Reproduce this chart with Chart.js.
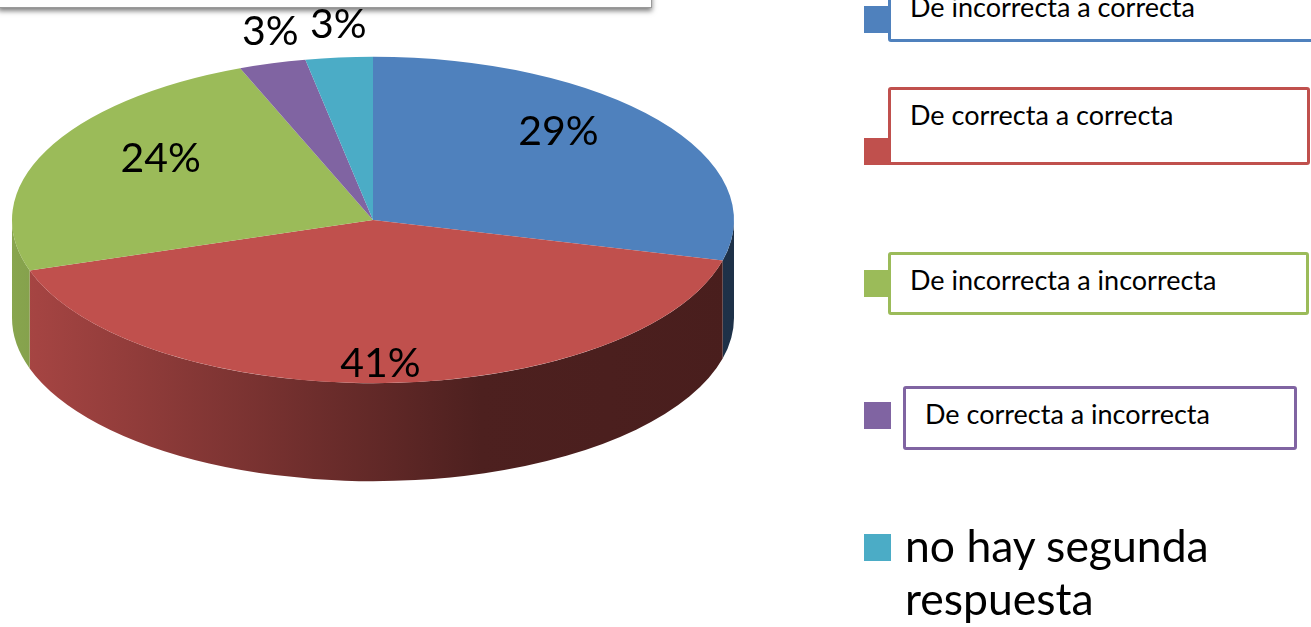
<!DOCTYPE html>
<html lang="es">
<head>
<meta charset="UTF-8">
<title>Segunda respuesta</title>
<style>
  html, body { margin: 0; padding: 0; background: #fff; overflow: hidden; }
  body { width: 1311px; height: 627px; position: relative; font-family: Lato, "Noto Sans", sans-serif; }
  #chartBox { position: absolute; left: 0; top: 0; width: 1311px; height: 627px; }
  .titleBox { position: absolute; left: -2px; top: -50px; width: 652px; height: 56px; background: #fff; border: 1px solid #9a9a9a; box-shadow: 0 3px 5px rgba(0,0,0,0.5); }
  .sq { position: absolute; left: 864px; width: 27px; height: 27px; }
  .lbox { position: absolute; box-sizing: border-box; border: 3px solid; border-radius: 3px; background: #fff; }
  .ltext { position: absolute; color: #000; line-height: 1; white-space: nowrap; }
  .ltext.big { white-space: normal; width: 340px; line-height: 53px; }
</style>
</head>
<body>
<div id="chartBox"><canvas id="pie" width="1311" height="627"></canvas></div>
<div class="titleBox"></div>
<div id="legend"></div>
<script src="https://cdn.jsdelivr.net/npm/chart.js"></script>
<script>
const categories = ['De incorrecta a correcta', 'De correcta a correcta', 'De incorrecta a incorrecta', 'De correcta a incorrecta', 'no hay segunda respuesta'];
const percents = [29, 41, 24, 3, 3];
const sliceColors = ['#4f81bd', '#c0504d', '#9bbb59', '#8064a2', '#4bacc6'];

// the text boxes were put over the legend by hand, so each sits on its own spot
const legendSpots = [
  { sq: 6,   box: [888, -40, 432, 82], text: [910, -7, 27] },
  { sq: 138, box: [888, 87, 422, 78],  text: [910, 101, 27] },
  { sq: 270, box: [888, 252, 421, 63], text: [910, 266, 27] },
  { sq: 402, box: [903, 386, 394, 64], text: [925, 400, 27] },
  { sq: 534, box: null,                text: [905, 518, 44.5] }
];

const tilt = 0.452;  // squash of the top face
const depth = 98;    // thickness of the pie in px

function shade(hex, f) {
  const n = parseInt(hex.slice(1), 16);
  const r = Math.round(((n >> 16) & 255) * f);
  const g = Math.round(((n >> 8) & 255) * f);
  const b = Math.round((n & 255) * f);
  return `rgb(${r},${g},${b})`;
}

const pie3d = {
  id: 'pie3d',
  beforeDatasetsDraw(chart) {
    const ctx = chart.ctx;
    const arcs = chart.getDatasetMeta(0).data;
    const { x, y, outerRadius: r } = arcs[0];
    ctx.save();
    ctx.translate(x, y);
    ctx.scale(1, tilt);
    ctx.translate(-x, -y);
    const d = depth / tilt;
    arcs.forEach((arc, i) => {
      const a0 = arc.startAngle, a1 = arc.endAngle;
      const grad = ctx.createLinearGradient(x - r, 0, x + r, 0);
      grad.addColorStop(0, shade(sliceColors[i], 0.88));
      grad.addColorStop(0.65, shade(sliceColors[i], 0.4));
      grad.addColorStop(1, shade(sliceColors[i], 0.38));
      ctx.fillStyle = grad;
      // only the front half of the rim shows
      [-2 * Math.PI, 0, 2 * Math.PI].forEach(k => {
        const lo = Math.max(a0, k), hi = Math.min(a1, k + Math.PI);
        if (hi <= lo) return;
        ctx.beginPath();
        ctx.arc(x, y, r, lo, hi);
        ctx.arc(x, y + d, r, hi, lo, true);
        ctx.closePath();
        ctx.fill();
      });
    });
  },
  afterDatasetsDraw(chart) {
    const ctx = chart.ctx;
    ctx.restore();
    const arcs = chart.getDatasetMeta(0).data;
    const { x, y, outerRadius: r } = arcs[0];
    ctx.save();
    ctx.font = '41px Lato';
    ctx.fillStyle = '#000';
    ctx.textAlign = 'center';
    ctx.textBaseline = 'middle';
    arcs.forEach((arc, i) => {
      const mid = (arc.startAngle + arc.endAngle) / 2;
      const small = percents[i] < 5;
      const fx = small ? 1.02 : 0.65;
      const fy = small ? 1.2 : 0.88;
      const lx = x + Math.cos(mid) * r * fx;
      const ly = y + Math.sin(mid) * r * tilt * fy;
      ctx.fillText(percents[i] + '%', lx, ly);
    });
    ctx.restore();
  }
};

function drawChart() {
  new Chart(document.getElementById('pie'), {
    type: 'pie',
    data: {
      labels: categories,
      datasets: [{ data: percents, backgroundColor: sliceColors, borderWidth: 0, radius: 361, clip: false }]
    },
    options: {
      responsive: false,
      animation: false,
      events: [],
      layout: { padding: { left: 12, right: 577, top: 0, bottom: 187 } },
      plugins: { legend: { display: false }, tooltip: { enabled: false } }
    },
    plugins: [pie3d]
  });
}

// legend
const legend = document.getElementById('legend');
categories.forEach((name, i) => {
  const spot = legendSpots[i];
  const sq = document.createElement('div');
  sq.className = 'sq';
  sq.style.top = spot.sq + 'px';
  sq.style.background = sliceColors[i];
  legend.appendChild(sq);
  if (spot.box) {
    const b = document.createElement('div');
    b.className = 'lbox';
    b.style.left = spot.box[0] + 'px';
    b.style.top = spot.box[1] + 'px';
    b.style.width = spot.box[2] + 'px';
    b.style.height = spot.box[3] + 'px';
    b.style.borderColor = sliceColors[i];
    legend.appendChild(b);
  }
  const t = document.createElement('div');
  t.className = 'ltext' + (spot.box ? '' : ' big');
  t.style.left = spot.text[0] + 'px';
  t.style.top = spot.text[1] + 'px';
  t.style.fontSize = spot.text[2] + 'px';
  t.textContent = name;
  legend.appendChild(t);
});

document.fonts.load('41px Lato').then(drawChart, drawChart);
</script>
</body>
</html>
